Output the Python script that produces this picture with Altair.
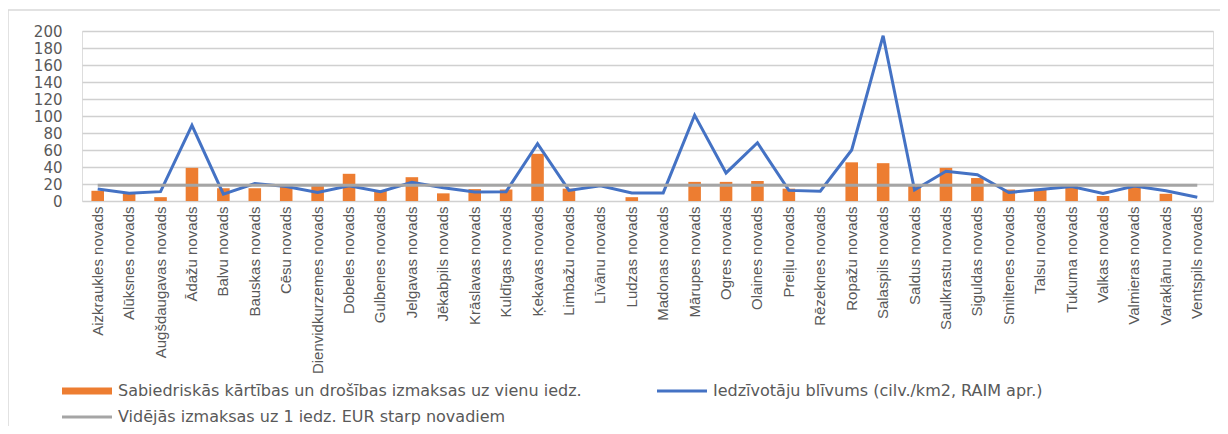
import altair as alt
import pandas as pd

novadi = [
    "Aizkraukles novads", "Alūksnes novads", "Augšdaugavas novads", "Ādažu novads",
    "Balvu novads", "Bauskas novads", "Cēsu novads", "Dienvidkurzemes novads",
    "Dobeles novads", "Gulbenes novads", "Jelgavas novads", "Jēkabpils novads",
    "Krāslavas novads", "Kuldīgas novads", "Ķekavas novads", "Limbažu novads",
    "Līvānu novads", "Ludzas novads", "Madonas novads", "Mārupes novads",
    "Ogres novads", "Olaines novads", "Preiļu novads", "Rēzeknes novads",
    "Ropažu novads", "Salaspils novads", "Saldus novads", "Saulkrastu novads",
    "Siguldas novads", "Smiltenes novads", "Talsu novads", "Tukuma novads",
    "Valkas novads", "Valmieras novads", "Varakļānu novads", "Ventspils novads",
]

# Sabiedriskās kārtības un drošības izmaksas uz vienu iedz.
izmaksas = [
    12, 9.5, 4.5, 39, 15, 15, 18, 18.5, 32, 12, 28, 9, 14, 13.5, 55.5, 14.5,
    None, 4.5, None, 22.5, 22.5, 23.5, 14.5, None, 45.5, 44.5, 19, 39, 27,
    13.5, 13.5, 17.5, 6, 17.5, 8.5, None,
]

# Iedzīvotāju blīvums (cilv./km2, RAIM apr.)
blivums = [
    14, 9, 11, 89, 8, 20.5, 17, 10, 18, 11, 22, 15.5, 10.5, 11, 67.5, 12.5,
    18, 9.5, 9.5, 101, 33, 68.5, 12.5, 11.5, 60, 194.5, 13, 35, 31, 10, 13.5,
    17, 9, 17.5, 12, 4.5,
]

# Vidējās izmaksas uz 1 iedz. EUR starp novadiem
videjas = 18.5

y_ticks = [0, 20, 40, 60, 80, 100, 120, 140, 160, 180, 200]

S1 = "Sabiedriskās kārtības un drošības izmaksas uz vienu iedz."
S2 = "Iedzīvotāju blīvums (cilv./km2, RAIM apr.)"
S3 = "Vidējās izmaksas uz 1 iedz. EUR starp novadiem"

bars_df = pd.DataFrame({"novads": novadi, "vertiba": izmaksas, "serija": S1})
lines_df = pd.concat([
    pd.DataFrame({"novads": novadi, "vertiba": blivums, "serija": S2}),
    pd.DataFrame({"novads": novadi, "vertiba": [videjas] * len(novadi), "serija": S3}),
], ignore_index=True)

TXT = "#595959"
color_scale = alt.Scale(domain=[S1, S2, S3], range=["#ED7D31", "#4472C4", "#A5A5A5"])

THICK = "M-1,-0.35H4V0.35H-1Z"
THIN = "M-1,-0.15H4V0.15H-1Z"

legend = alt.Legend(
    title=None, orient="none", legendX=-20, legendY=350,
    direction="horizontal", columns=2, columnPadding=75, rowPadding=8,
    symbolType={"expr": f"datum.index === 0 ? '{THICK}' : '{THIN}'"},
    symbolSize=400, symbolStrokeWidth=0, symbolOpacity=1,
    labelOffset=36, labelFont="DejaVu Sans", labelFontSize=16,
    labelColor=TXT, labelLimit=900,
)

x_scale = alt.Scale(paddingInner=0.6, paddingOuter=0.3)
x_axis = alt.Axis(labelAngle=-90, ticks=False, domain=False, grid=False,
                  labelPadding=5, labelFont="Liberation Sans",
                  labelFontSize=15, labelColor=TXT, labelLimit=400)
y_scale = alt.Scale(domain=[0, 200], nice=False)
y_axis = alt.Axis(values=y_ticks, ticks=False, domain=False, grid=True,
                  gridColor="#D0D0D0", gridWidth=1.5, labelPadding=20,
                  labelOverlap=False, labelFont="DejaVu Sans",
                  labelFontSize=15, labelColor=TXT)

x_enc = alt.X("novads:N", sort=novadi, title=None, scale=x_scale, axis=x_axis)
y_enc = alt.Y("vertiba:Q", title=None, scale=y_scale, axis=y_axis)

bars = alt.Chart(bars_df).mark_bar().encode(
    x=x_enc, y=y_enc,
    color=alt.Color("serija:N", scale=color_scale, legend=legend),
)

lines = alt.Chart(lines_df).mark_line(strokeWidth=3, strokeJoin="miter").encode(
    x=x_enc, y=y_enc,
    color=alt.Color("serija:N", scale=color_scale, legend=legend),
    detail="serija:N",
)

frame = alt.Chart(pd.DataFrame({"a": [0]})).mark_rect(
    fill="transparent", stroke="#D9D9D9", strokeWidth=1.5, clip=False
).encode(x=alt.value(-74), x2=alt.value(1400), y=alt.value(-21), y2=alt.value(600))

chart = alt.layer(bars, lines, frame).properties(
    width=1131, height=170,
    autosize=alt.AutoSizeParams(type="none"),
    padding={"left": 74, "top": 23, "right": 7, "bottom": 225},
).configure_view(stroke=None).configure_axisY(
    grid=True, gridColor="#D0D0D0", gridWidth=1.5, labelOverlap=False
).configure(background="white")

chart.save("out.html", embed_options={"renderer": "svg", "actions": False})
